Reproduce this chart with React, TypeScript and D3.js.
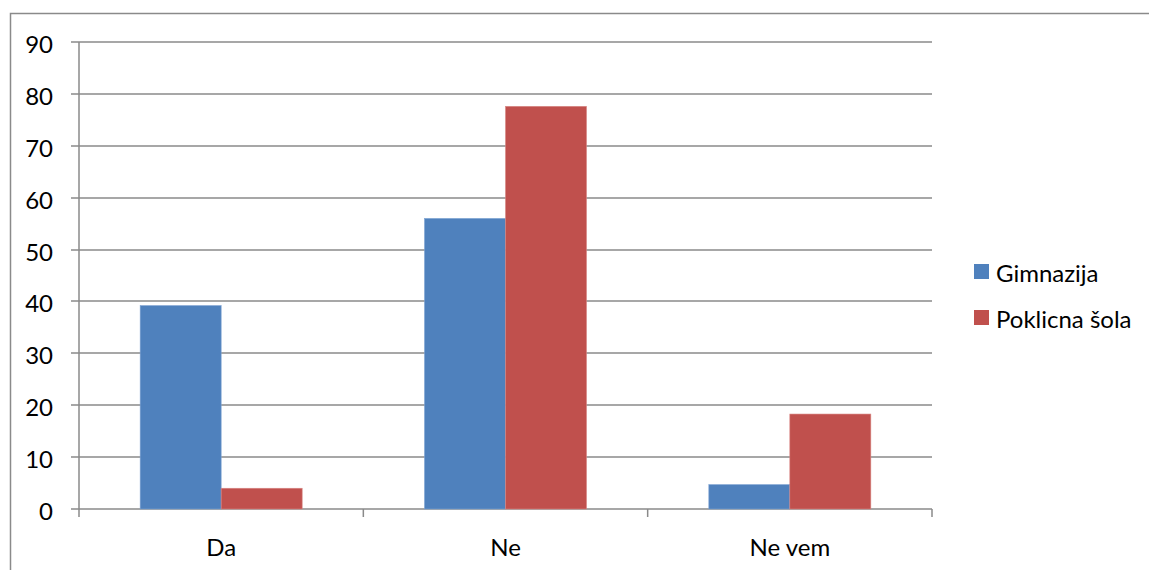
import React from "react";
import * as d3 from "d3";

const categories = ["Da", "Ne", "Ne vem"];
const seriesNames = ["Gimnazija", "Poklicna šola"];
const gimnazija = [39.2, 56.0, 4.7];
const poklicna = [4.0, 77.6, 18.3];
const yTicks = [0, 10, 20, 30, 40, 50, 60, 70, 80, 90];
const colors = ["#4F81BD", "#C0504D"];

const W = 1149;
const H = 570;
const plot = { left: 79, right: 932, top: 42, bottom: 509 };
const FONT = "Lato, 'Open Sans', sans-serif";
const FS = 24;

export default function App() {
  const x = d3
    .scaleBand<string>()
    .domain(categories)
    .range([plot.left, plot.right])
    .paddingInner(0)
    .paddingOuter(0);
  const y = d3.scaleLinear().domain([0, 90]).range([plot.bottom, plot.top]);
  const inner = d3
    .scaleBand<number>()
    .domain([0, 1])
    .range([0, x.bandwidth()])
    .paddingInner(0)
    .paddingOuter(0.755);

  const series = [gimnazija, poklicna];
  const gridColor = "#8a8a8a";

  return (
    <svg
      width={W}
      height={H}
      style={{ position: "absolute", left: 0, top: 0, background: "#fff" }}
    >
      <rect x={10.5} y={13.5} width={1300} height={700} fill="#fff" stroke="#8a8a8a" strokeWidth={1.5} />
      {yTicks.map((t) => (
        <g key={t}>
          <line
            x1={plot.left - 8}
            x2={plot.right}
            y1={Math.round(y(t))}
            y2={Math.round(y(t))}
            stroke={gridColor}
            strokeWidth={1.5}
          />
          <text
            x={53}
            y={Math.round(y(t)) + 1}
            textAnchor="end"
            dominantBaseline="central"
            fontFamily={FONT}
            fontSize={FS}
            fill="#000"
          >
            {t}
          </text>
        </g>
      ))}
      <line x1={plot.left} x2={plot.left} y1={plot.top} y2={plot.bottom + 8} stroke={gridColor} strokeWidth={1.5} />
      {[1, 2, 3].map((i) => {
        const xx = plot.left + (i * (plot.right - plot.left)) / 3;
        return <line key={i} x1={xx} x2={xx} y1={plot.bottom} y2={plot.bottom + 8} stroke={gridColor} strokeWidth={1.5} />;
      })}
      {categories.map((c, ci) => (
        <g key={c}>
          {series.map((s, si) => (
            <rect
              key={si}
              x={(x(c) as number) + (inner(si) as number)}
              y={y(s[ci])}
              width={inner.bandwidth()}
              height={plot.bottom - y(s[ci])}
              fill={colors[si]}
              stroke={si === 0 ? "#7ea3d3" : "#d88784"}
              strokeWidth={0.6}
            />
          ))}
          <text
            x={(x(c) as number) + x.bandwidth() / 2}
            y={546}
            textAnchor="middle"
            dominantBaseline="central"
            fontFamily={FONT}
            fontSize={FS}
            fill="#000"
          >
            {c}
          </text>
        </g>
      ))}
      {seriesNames.map((n, i) => (
        <g key={n} transform={`translate(974, ${264 + i * 46})`}>
          <rect x={0} y={0} width={15} height={15} fill={colors[i]} />
          <text x={22} y={8} dominantBaseline="central" fontFamily={FONT} fontSize={FS} fill="#000">
            {n}
          </text>
        </g>
      ))}
    </svg>
  );
}
